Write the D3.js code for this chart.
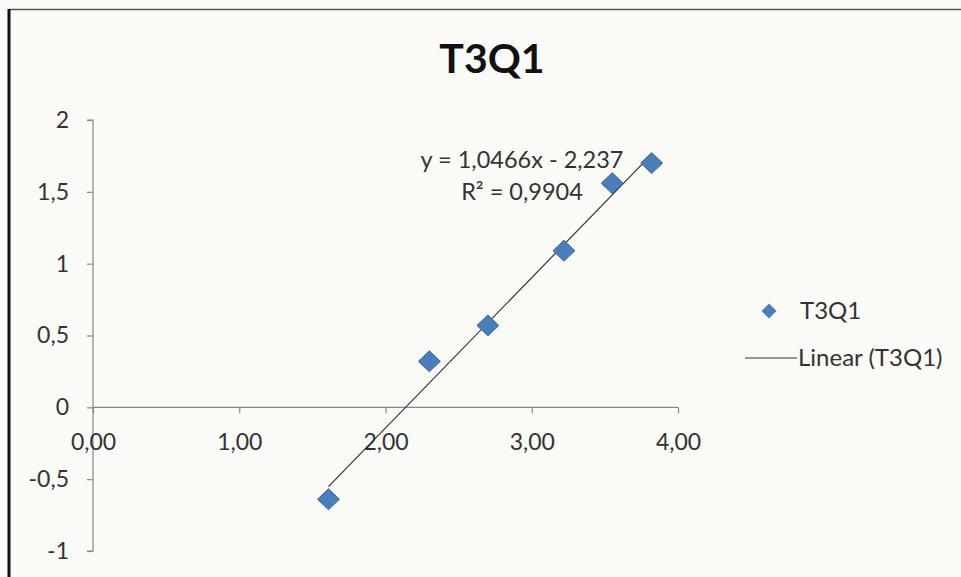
<!DOCTYPE html>
<html>
<head>
<meta charset="utf-8">
<script src="https://cdn.jsdelivr.net/npm/d3@7"></script>
<style>
  html, body { margin: 0; padding: 0; background: #fafaf6; }
  svg { display: block; }
  text { font-family: Lato, "Open Sans", sans-serif; }
</style>
</head>
<body>
<svg id="chart" width="961" height="577"></svg>
<script>
'use strict';

// data
var seriesName = 'T3Q1';
var xValues = [1.61, 2.30, 2.70, 3.22, 3.55, 3.82];
var yValues = [-0.64, 0.32, 0.57, 1.09, 1.56, 1.70];
var trendSlope = 1.0466;
var trendIntercept = -2.237;
var trendLabel = ['y = 1,0466x - 2,237', 'R² = 0,9904'];
var xTicks = [0, 1, 2, 3, 4];
var yTicks = [-1, -0.5, 0, 0.5, 1, 1.5, 2];

var svg = d3.select('#chart');

var x = d3.scaleLinear().domain([0, 4]).range([93, 678]);
var y = d3.scaleLinear().domain([-1, 2]).range([551, 120]);

var comma = function(fmt) {
    return function(d) { return d3.format(fmt)(d).replace('.', ','); };
};

// frame
svg.append('line')
    .attr('x1', 9).attr('y1', 9.5).attr('x2', 961).attr('y2', 9.5)
    .attr('stroke', '#555').attr('stroke-width', 1.5);
svg.append('line')
    .attr('x1', 9).attr('y1', 9).attr('x2', 9).attr('y2', 577)
    .attr('stroke', '#111').attr('stroke-width', 3);

// title
svg.append('text')
    .attr('x', 492).attr('y', 73)
    .attr('text-anchor', 'middle')
    .style('font-size', '41px').style('font-weight', 'bold')
    .attr('fill', '#111')
    .text(seriesName);

// y axis
var axisY = d3.axisLeft(y)
    .tickValues(yTicks)
    .tickSize(6)
    .tickPadding(18)
    .tickFormat(function(d) { return String(d).replace('.', ','); });

var gy = svg.append('g')
    .attr('transform', 'translate(' + x(0) + ',0)')
    .call(axisY);

// x axis, crossing at y = 0
var axisX = d3.axisBottom(x)
    .tickValues(xTicks)
    .tickSize(6)
    .tickPadding(20)
    .tickFormat(comma('.2f'));

var gx = svg.append('g')
    .attr('transform', 'translate(0,' + y(0) + ')')
    .call(axisX);

[gx, gy].forEach(function(g) {
    g.select('.domain').attr('stroke', '#888').attr('stroke-width', 1.2);
    g.selectAll('.tick line').attr('stroke', '#888').attr('stroke-width', 1.2);
    g.selectAll('.tick text')
        .attr('fill', '#333')
        .style('font-size', '23px')
        .style('font-family', 'Lato, "Open Sans", sans-serif');
});
gy.select('.domain').attr('d', 'M-6,' + y(2) + 'H0V' + y(-1) + 'H-6');
gx.select('.domain').attr('d', 'M' + x(0) + ',0H' + x(4));

// trendline over the data range
var xMin = d3.min(xValues), xMax = d3.max(xValues);
var line = d3.line()
    .x(function(d) { return x(d); })
    .y(function(d) { return y(trendSlope * d + trendIntercept); });

svg.append('path')
    .datum([xMin, xMax])
    .attr('d', line)
    .attr('fill', 'none')
    .attr('stroke', '#333')
    .attr('stroke-width', 1.2);

// markers
var diamond = function(w, h) {
    return 'M0,' + (-h) + 'L' + w + ',0L0,' + h + 'L' + (-w) + ',0Z';
};

svg.append('g').selectAll('path')
    .data(d3.zip(xValues, yValues))
    .enter()
    .append('path')
    .attr('transform', function(d) {
        return 'translate(' + x(d[0]) + ',' + y(d[1]) + ')';
    })
    .attr('d', diamond(11, 10.5))
    .attr('fill', '#4a7ebb')
    .attr('stroke', '#3d6ba3')
    .attr('stroke-width', 1);

// equation label
var eq = svg.append('text')
    .attr('text-anchor', 'middle')
    .style('font-size', '23.5px')
    .attr('fill', '#333');
eq.append('tspan').attr('x', 522).attr('y', 168).text(trendLabel[0]);
eq.append('tspan').attr('x', 522).attr('y', 200).text(trendLabel[1]);

// legend
var legend = svg.append('g');
legend.append('path')
    .attr('transform', 'translate(769,311)')
    .attr('d', diamond(7.5, 7.5))
    .attr('fill', '#4a7ebb');
legend.append('text')
    .attr('x', 800).attr('y', 319)
    .style('font-size', '24px').attr('fill', '#333')
    .text(seriesName);
legend.append('line')
    .attr('x1', 745).attr('x2', 797).attr('y1', 358).attr('y2', 358)
    .attr('stroke', '#333').attr('stroke-width', 1.2);
legend.append('text')
    .attr('x', 798).attr('y', 366)
    .style('font-size', '24px').attr('fill', '#333')
    .text('Linear (' + seriesName + ')');
</script>
</body>
</html>
